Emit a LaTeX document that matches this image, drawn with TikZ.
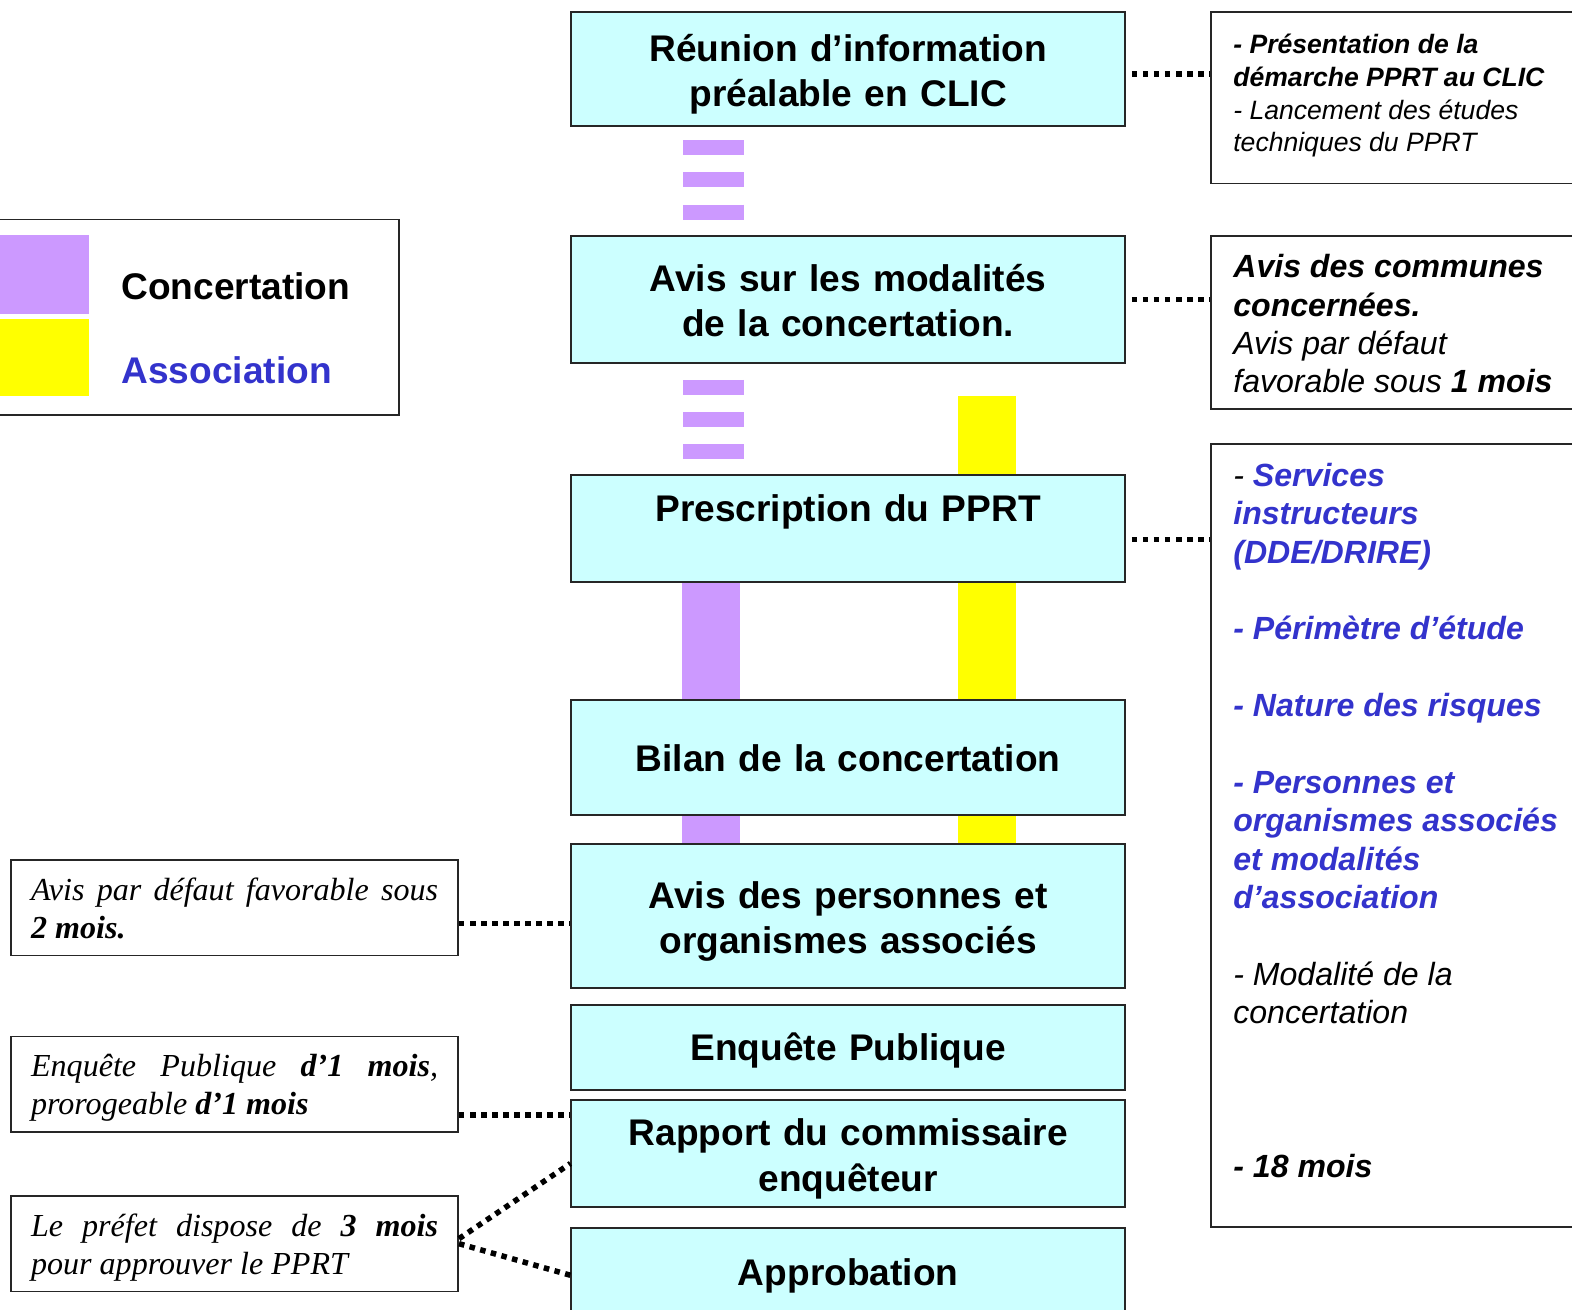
\documentclass[tikz,border=0pt]{standalone}
\usepackage{fontspec}
\setmainfont{Liberation Serif}
\newfontfamily\arial{Liberation Sans}
\usetikzlibrary{calc,backgrounds}
\definecolor{boxcyan}{HTML}{CCFFFF}
\definecolor{lilac}{HTML}{CC99FF}
\definecolor{assocblue}{HTML}{3333CC}
\definecolor{sunyellow}{HTML}{FFFF00}
\begin{document}
\begin{tikzpicture}[x=1pt,y=-1pt,
  mainbox/.style={draw=black!85, line width=2pt, fill=boxcyan, minimum width=552pt,
    text width=548pt, inner xsep=2pt, inner ysep=0pt, align=center,
    font=\arial\bfseries\fontsize{37}{45}\selectfont,
    execute at begin node={\rule{0pt}{#1}}, execute at end node={\strut}},
  mainbox/.default=43.5pt,
  framebox/.style={draw=black!85, line width=1.8pt, fill=white, inner sep=0pt},
  leftnote/.style={draw=black!85, line width=1.6pt, inner xsep=20pt, inner ysep=0pt,
    minimum height=95pt, text width=406pt, align=justify,
    font=\itshape\fontsize{32}{38}\selectfont,
    execute at begin node={\rule{0pt}{34.6pt}}, execute at end node={\strut}},
  righttext/.style={anchor=north west, inner sep=0pt, align=left},
  dotline/.style={line width=5.5pt, dash pattern=on 5.5pt off 5.5pt},
  purpledash/.style={draw=lilac, line width=61pt, dash pattern=on 15pt off 17pt},
  purplebar/.style={draw=lilac, line width=58pt},
  yellowbar/.style={draw=sunyellow, line width=57pt}
]
\useasboundingbox (0,0) rectangle (1568,1306);
\clip (0,0) rectangle (1568,1306);

% main process boxes
\node[mainbox, minimum height=114pt] (n1) at (846,69) {R\'eunion d’information\\pr\'ealable en CLIC};
\node[mainbox, minimum height=127pt] (n2) at (846,298.5) {Avis sur les modalit\'es\\de la concertation.};
\node[mainbox, minimum height=107pt] (n3) at (846,527.5) {Prescription du PPRT\\\mbox{}};
\node[mainbox=42.5pt, minimum height=115pt] (n4) at (846,755.5) {Bilan de la concertation};
\node[mainbox, minimum height=143pt] (n5) at (846,913.5) {Avis des personnes et\\organismes associ\'es};
\node[mainbox=41pt, minimum height=85pt] (n6) at (846,1044.5) {Enqu\^ete Publique};
\node[mainbox, minimum height=107pt] (n7) at (846,1150.5) {Rapport du commissaire\\enqu\^eteur};
\node[mainbox=40pt, minimum height=88pt] (n8) at (846,1269) {Approbation};

% bars (phases)
\coordinate (yst) at (984.5,395);
\begin{scope}[on background layer]
  \draw[purpledash, dash phase=19pt] ($(n1.south)+(-134.5,0)$) -- ($(n2.north)+(-134.5,0)$);
  \draw[purpledash, dash phase=16pt] ($(n2.south)+(-134.5,0)$) -- ($(n3.north)+(-134.5,0)$);
  \draw[purplebar] ($(n3.south)+(-137,0)$) -- ($(n4.north)+(-137,0)$);
  \draw[purplebar] ($(n4.south)+(-137,0)$) -- ($(n5.north)+(-137,0)$);
  \draw[yellowbar] (yst) -- (yst |- n3.north);
  \draw[yellowbar] ($(n3.south)+(138.5,0)$) -- ($(n4.north)+(138.5,0)$);
  \draw[yellowbar] ($(n4.south)+(138.5,0)$) -- ($(n5.north)+(138.5,0)$);
\end{scope}

% right boxes
\node[framebox, minimum width=372pt, minimum height=171pt] (r1) at (1394,97.5) {};
\node[framebox, minimum width=372pt, minimum height=173pt] (r2) at (1394,321.5) {};
\node[framebox, minimum width=372pt, minimum height=781pt] (r3) at (1394,833.5) {};

\node[righttext, font=\arial\itshape\fontsize{26.5}{32.5}\selectfont] (r1t) at (1230,30.75)
  {\strut\textbf{- Pr\'esentation de la}\\\textbf{d\'emarche PPRT au CLIC}\\- Lancement des \'etudes\\techniques du PPRT};
\node[righttext, font=\arial\itshape\fontsize{32}{38}\selectfont] (r2t) at (1230,250.4)
  {\strut\textbf{Avis des communes}\\\textbf{concern\'ees.}\\Avis par d\'efaut\\favorable sous \textbf{1 mois}};
\node[righttext, font=\arial\itshape\bfseries\fontsize{32}{38.3}\selectfont, text=assocblue] (r3t) at (1230,458)
  {\strut{\color{black}\mdseries -} Services\\instructeurs\\(DDE/DRIRE)\\\mbox{}\\- P\'erim\`etre d’\'etude\\\mbox{}\\- Nature des risques\\\mbox{}\\- Personnes et\\organismes associ\'es\\et modalit\'es\\d’association\\\mbox{}\\{\color{black}\mdseries - Modalit\'e de la}\\{\color{black}\mdseries concertation}\\\mbox{}\\\mbox{}\\\mbox{}\\{\color{black}- 18 mois}};

\draw[dotline] ($(n1.east)+(6,5)$) -- ($(n1.east -| r1.west)+(0,5)$);
\draw[dotline] ($(n2.east)+(6,0)$) -- ($(n2.east -| r2.west)+(0,0)$);
\draw[dotline] ($(n3.east)+(6,10.5)$) -- ($(n3.east -| r3.west)+(0,10.5)$);

% legend
\node[framebox, minimum width=403pt, minimum height=195pt] (legend) at (196.5,316.5) {};
\fill[lilac] (-2,234) rectangle (89,313);
\fill[sunyellow] (-2,318) rectangle (89,395);
\node[anchor=west, inner sep=0pt, font=\arial\bfseries\fontsize{37}{45}\selectfont] (lc) at (121,286) {Concertation};
\node[anchor=west, inner sep=0pt, font=\arial\bfseries\fontsize{37}{45}\selectfont, text=assocblue] (la) at (121,369) {Association};

% left notes
\node[leftnote] (l1) at (234,905.5) {Avis par d\'efaut favorable sous\linebreak \textbf{2 mois.}};
\node[leftnote] (l2) at (234,1081.5) {Enqu\^ete Publique \textbf{d’1 mois},\linebreak prorogeable \textbf{d’1 mois}};
\node[leftnote] (l3) at (234,1240.5) {Le pr\'efet dispose de \textbf{3 mois}\linebreak pour approuver le PPRT};

\draw[dotline] ($(l1.east)+(0,15.5)$) -- ($(l1.east -| n5.west)+(0,15.5)$);
\draw[dotline] ($(l2.east)+(0,30.5)$) -- ($(l2.east -| n7.west)+(0,30.5)$);
\draw[dotline] ($(l3.east)+(0,-5)$) -- ($(n7.west)+(0,10)$);
\draw[dotline] ($(l3.east)+(0,0)$) -- ($(n8.west)+(0,3)$);
\end{tikzpicture}
\end{document}
